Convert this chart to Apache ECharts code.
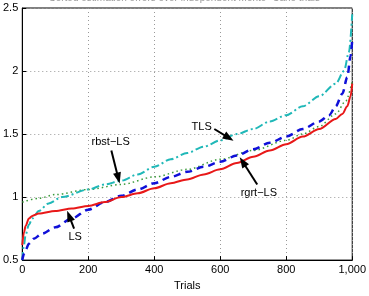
<!DOCTYPE html>
<html>
<head>
<meta charset="utf-8">
<script src="https://cdn.jsdelivr.net/npm/echarts@6/dist/echarts.min.js"></script>
<style>
  html, body { margin: 0; padding: 0; background: #fff; }
  #chart { width: 369px; height: 296px; }
</style>
</head>
<body>
<div id="chart"></div>
<script>
// sorted errors
var lsX = [0, 5, 10, 20, 35, 60, 100, 150, 200, 250, 300, 350, 400, 450, 500, 550, 600, 650, 700, 750, 800, 850, 900, 930, 950, 970, 985, 995, 1000]
var lsY = [0.5, 0.55, 0.58, 0.63, 0.67, 0.71, 0.76, 0.83, 0.9, 0.96, 1.01, 1.06, 1.11, 1.16, 1.2, 1.24, 1.28, 1.33, 1.38, 1.43, 1.48, 1.54, 1.6, 1.65, 1.72, 1.82, 1.95, 2.12, 2.25]

var tlsX = [0, 5, 10, 20, 30, 50, 80, 120, 200, 250, 300, 350, 400, 450, 500, 550, 600, 650, 700, 750, 800, 850, 900, 950, 975, 990, 1000]
var tlsY = [0.5, 0.62, 0.7, 0.78, 0.83, 0.89, 0.95, 1.0, 1.06, 1.1, 1.13, 1.18, 1.24, 1.3, 1.35, 1.4, 1.45, 1.5, 1.54, 1.6, 1.65, 1.72, 1.8, 1.9, 2.0, 2.15, 2.45]

var rbstX = [0, 50, 100, 200, 300, 400, 500, 600, 700, 800, 850, 900, 950, 980, 1000]
var rbstY = [0.96, 0.99, 1.02, 1.06, 1.1, 1.16, 1.22, 1.3, 1.37, 1.45, 1.5, 1.56, 1.66, 1.76, 1.92]

var rgrtX = [0, 5, 10, 20, 30, 50, 100, 150, 200, 250, 300, 350, 400, 450, 500, 550, 600, 650, 700, 750, 800, 850, 900, 950, 970, 985, 995, 1000]
var rgrtY = [0.62, 0.72, 0.77, 0.83, 0.85, 0.87, 0.89, 0.91, 0.93, 0.96, 1.0, 1.03, 1.07, 1.11, 1.14, 1.18, 1.22, 1.27, 1.32, 1.37, 1.42, 1.48, 1.54, 1.62, 1.66, 1.72, 1.8, 1.9]

// annotation arrows: [label, fromX, fromY, toX, toY]
var notes = [
  ['TLS', 582, 1.54, 626, 1.47],
  ['rbst\u2212LS', 270, 1.37, 291, 1.15],
  ['LS', 157, 0.75, 142, 0.85],
  ['rgrt\u2212LS', 712, 1.1, 668, 1.28]
]

function pairs(xs, ys) {
  return xs.map(function(x, i) { return [x, ys[i]] })
}

var font = 'Liberation Sans, Arial, sans-serif'
var chart = echarts.init(document.getElementById('chart'))

var arrows = {
  type: 'line',
  data: [],
  silent: true,
  markLine: {
    silent: true,
    symbol: ['none', 'triangle'],
    symbolSize: [8, 11],
    lineStyle: { color: '#000', width: 2, type: 'solid' },
    label: { show: false },
    data: notes.map(function(n) {
      return [
        {
          coord: [n[1], n[2]],
          label: {
            show: true,
            position: 'start',
            formatter: n[0],
            color: '#000',
            fontSize: 11,
            fontFamily: font,
            distance: 3
          }
        },
        { coord: [n[3], n[4]] }
      ]
    })
  }
}

chart.setOption({
  animation: false,
  title: {
    text: 'Sorted estimation errors over independent Monte\u2212Carlo trials',
    left: 'center',
    top: -12,
    textStyle: { fontSize: 10, fontWeight: 'normal', color: '#999', fontFamily: font }
  },
  grid: {
    left: 22,
    right: 10,
    top: 8,
    bottom: 28,
    show: true,
    borderColor: '#000',
    borderWidth: 1
  },
  xAxis: {
    type: 'value',
    min: 0,
    max: 1000,
    interval: 200,
    name: 'Trials',
    nameLocation: 'middle',
    nameGap: 17,
    nameTextStyle: { color: '#000', fontSize: 11, fontFamily: font },
    axisLine: { lineStyle: { color: '#000' } },
    axisTick: { inside: true, length: 4, lineStyle: { color: '#000' } },
    axisLabel: { color: '#000', fontSize: 11, fontFamily: font, margin: 4 },
    splitLine: { lineStyle: { color: '#999', type: [1, 3] } }
  },
  yAxis: {
    type: 'value',
    min: 0.5,
    max: 2.5,
    interval: 0.5,
    axisLine: { show: true, lineStyle: { color: '#000' } },
    axisTick: { show: true, inside: true, length: 4, lineStyle: { color: '#000' } },
    axisLabel: { color: '#000', fontSize: 11, fontFamily: font, margin: 4 },
    splitLine: { lineStyle: { color: '#999', type: [1, 3] } }
  },
  series: [
    {
      name: 'rbst-LS',
      type: 'line',
      data: pairs(rbstX, rbstY),
      showSymbol: false,
      smooth: 0.3,
      smoothMonotone: 'x',
      lineStyle: { color: '#3a9a3a', width: 1.5, type: [1.5, 3] }
    },
    {
      name: 'TLS',
      type: 'line',
      data: pairs(tlsX, tlsY),
      showSymbol: false,
      smooth: 0.3,
      smoothMonotone: 'x',
      lineStyle: { color: '#20b8b8', width: 2, type: [8, 3, 2, 3] }
    },
    {
      name: 'LS',
      type: 'line',
      data: pairs(lsX, lsY),
      showSymbol: false,
      smooth: 0.3,
      smoothMonotone: 'x',
      lineStyle: { color: '#1010d8', width: 2.5, type: [7, 5] }
    },
    {
      name: 'rgrt-LS',
      type: 'line',
      data: pairs(rgrtX, rgrtY),
      showSymbol: false,
      smooth: 0.3,
      smoothMonotone: 'x',
      lineStyle: { color: '#e81818', width: 2, type: 'solid' }
    },
    arrows
  ]
})
</script>
</body>
</html>
